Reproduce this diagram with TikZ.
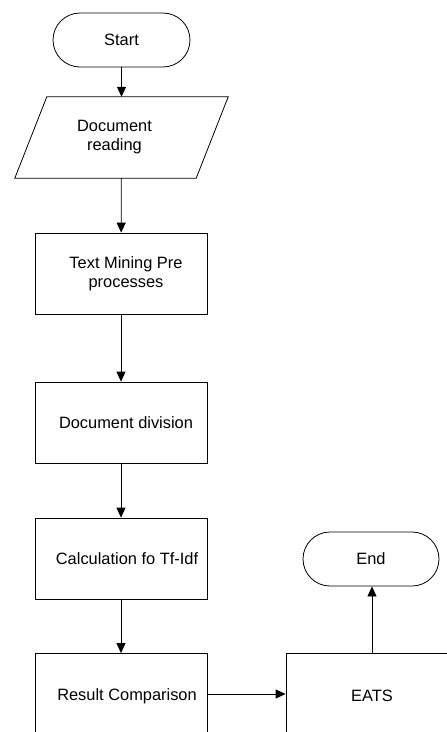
\documentclass[tikz,border=0pt]{standalone}
\usepackage{fontspec}
\setmainfont{Liberation Sans}
\usetikzlibrary{arrows.meta}
\begin{document}
\begin{tikzpicture}[x=1pt,y=1pt,
  every node/.style={font=\fontsize{16.4}{19}\selectfont, align=center, inner sep=0pt},
  terminal/.style={draw, line width=0.8pt, rounded corners=27pt, minimum width=137pt, minimum height=54pt},
  procbox/.style={draw, line width=0.8pt, minimum width=172pt, minimum height=81pt},
  iobox/.style={minimum width=181pt, minimum height=81pt},
  lbl/.style={font=\fontsize{16.4}{19}\selectfont, align=center},
  flow/.style={draw, line width=0.8pt, -{Triangle[length=10pt,width=9pt]}}
]
\clip (0,0) rectangle (447,-732);
\useasboundingbox (0,0) rectangle (447,-732);

% main column
\node[terminal] (start) at (121.5,-40) {Start};
\node[iobox] (read) at (121.5,-137.5) {};
\draw[line width=0.8pt] ([xshift=16pt]read.north west) -- ([xshift=16pt]read.north east)
  -- ([xshift=-16pt]read.south east) -- ([xshift=-16pt]read.south west) -- cycle;
\node[lbl] at (114.5,-137.5) {Document\\reading};

\node[procbox, label={[lbl,xshift=5pt]center:{Text Mining Pre\\processes}}] (pre) at (121,-273.5) {};
\node[procbox, label={[lbl,xshift=5pt]center:Document division}] (div) at (121,-422.5) {};
\node[procbox, label={[lbl,xshift=6pt]center:Calculation fo Tf-Idf}] (tfidf) at (121,-558.5) {};
\node[procbox, label={[lbl,xshift=6pt,yshift=-2pt]center:Result Comparison}] (cmp) at (121,-694) {};

% right column
\node[procbox, label={[lbl,yshift=-2pt]center:EATS}] (eats) at (372,-694) {};
\node[terminal, minimum width=136pt] (end) at (371,-559) {End};

% connectors
\draw[flow] (start) -- (read);
\draw[flow] (read) -- (pre);
\draw[flow] (pre) -- (div);
\draw[flow] (div) -- (tfidf);
\draw[flow] (tfidf) -- (cmp);
\draw[flow] (cmp) -- (eats);
\draw[flow] (eats.north) -- (eats.north |- end.south);
\end{tikzpicture}
\end{document}
